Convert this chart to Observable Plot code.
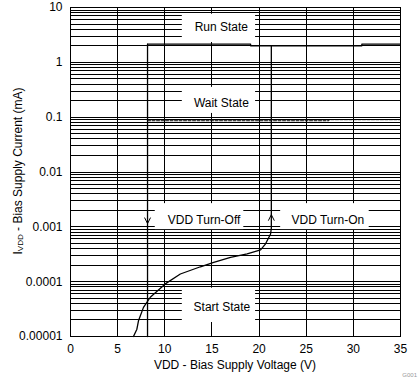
<!DOCTYPE html>
<html><head><meta charset="utf-8">
<script src="https://cdn.jsdelivr.net/npm/d3@7"></script>
<script src="https://cdn.jsdelivr.net/npm/@observablehq/plot@0.6"></script>
<style>body{margin:0;background:#fff} svg{display:block}</style>
</head><body><div id="chart"></div>
<script>
// Axis ticks
const xTicks = [0, 5, 10, 15, 20, 25, 30, 35];
const xGrid = [5, 10, 15, 20, 25, 30];
const yTicks = [1e-5, 1e-4, 1e-3, 1e-2, 1e-1, 1, 10];
const yTickLabels = ["0.00001", "0.0001", "0.001", "0.01", "0.1", "1", "10"];
const decades = [1e-5, 1e-4, 1e-3, 1e-2, 1e-1, 1];
const mults = [1, 2, 3, 4, 5, 6, 7, 8, 9];

// Start state / turn-on curve (V, mA)
const startV = [6.68, 7.04, 7.21, 7.74, 8.46, 10.05, 11.65, 13.78, 15.19, 16.97, 18.74, 20.16, 20.69, 21.22, 21.3, 21.3];
const startI = [1.0e-5, 1.36e-5, 1.93e-5, 3.4e-5, 5.2e-5, 9.1e-5, 1.38e-4, 1.87e-4, 2.25e-4, 2.77e-4, 3.2e-4, 3.8e-4, 4.9e-4, 7.4e-4, 9.5e-4, 2.0];
// Run state
const runV = [8.17, 19.1, 19.1, 30.9, 30.9, 35];
const runI = [2.15, 2.15, 2.0, 2.0, 2.15, 2.15];
// Turn-off drop
const offV = [8.17, 8.17];
const offI = [2.15, 1e-5];
// Wait state (dashed)
const waitV = [8.17, 27.4, 27.4, 35];
const waitI = [0.086, 0.086, 0.09, 0.09];

// Annotations
const labelText = ["Run State", "Wait State", "VDD Turn-Off", "VDD Turn-On", "Start State"];
const labelV = [16.0, 16.0, 14.17, 27.29, 16.06];
const labelI = [4.37, 0.182, 0.0013, 0.0013, 3.39e-5];
const boxV1 = [11.86, 11.86, 8.99, 22.29, 11.86];
const boxV2 = [19.63, 19.63, 18.38, 31.68, 19.63];
const boxI1 = [2.3, 0.117, 0.00089, 0.00089, 1.8e-5];
const boxI2 = [7.54, 0.35, 0.00265, 0.00265, 7.6e-5];
const arrowV = [8.17, 21.3];
const arrowI = [0.0013, 0.00147];
const arrowDir = ["down", "up"];

const minorTicks = decades.flatMap(d => mults.map(m => m * d)).concat([10]);
const toPts = (xs, ys) => xs.map((x, i) => ({x, y: ys[i]}));
const labels = labelText.map((t, i) => ({t, x: labelV[i], y: labelI[i]}));
const boxes = labelText.map((t, i) => ({x1: boxV1[i], x2: boxV2[i], y1: boxI1[i], y2: boxI2[i]}));
const arrows = arrowDir.map((d, i) => ({d, x: arrowV[i], y: arrowI[i]}));

const chevDown = {draw(ctx) { ctx.moveTo(-3, -3); ctx.lineTo(0, 3); ctx.lineTo(3, -3); }};
const chevUp = {draw(ctx) { ctx.moveTo(-3, 3); ctx.lineTo(0, -3); ctx.lineTo(3, 3); }};

const lineStyle = {x: "x", y: "y", stroke: "black", strokeWidth: 1.3, curve: "linear"};

const chart = Plot.plot({
  width: 419, height: 382,
  marginLeft: 70, marginRight: 19, marginTop: 7, marginBottom: 46,
  style: {fontFamily: "'Liberation Sans', Arial, sans-serif", fontSize: "12px", color: "black", background: "white"},
  x: {domain: [0, 35], label: null},
  y: {type: "log", domain: [1e-5, 10], label: null},
  marks: [
    Plot.ruleY(minorTicks, {stroke: "black", strokeWidth: 1, shapeRendering: "crispEdges"}),
    Plot.ruleX(xGrid, {stroke: "black", strokeWidth: 1, shapeRendering: "crispEdges"}),
    Plot.rect(boxes, {x1: "x1", x2: "x2", y1: "y1", y2: "y2", fill: "white"}),
    Plot.text(labels, {x: "x", y: "y", text: "t", fill: "black", fontSize: 12}),
    Plot.line(toPts(startV, startI), lineStyle),
    Plot.line(toPts(runV, runI), lineStyle),
    Plot.line(toPts(offV, offI), lineStyle),
    Plot.line(toPts(waitV, waitI), {...lineStyle, strokeWidth: 1, strokeDasharray: "3,1.5"}),
    Plot.dot(arrows.filter(a => a.d === "down"), {x: "x", y: "y", symbol: chevDown, fill: "none", stroke: "black", strokeWidth: 1}),
    Plot.dot(arrows.filter(a => a.d === "up"), {x: "x", y: "y", symbol: chevUp, fill: "none", stroke: "black", strokeWidth: 1}),
    Plot.frame({stroke: "black", strokeWidth: 1, shapeRendering: "crispEdges"}),
    Plot.axisX(xTicks, {tickSize: 0, tickPadding: 8, fontSize: 12}),
    Plot.axisY(yTicks, {tickSize: 0, tickPadding: 8, fontSize: 12, tickFormat: d => yTickLabels[yTicks.indexOf(d)]})
  ]
});

const svg = d3.select(chart);
svg.append("text")
  .attr("x", 235).attr("y", 369)
  .attr("text-anchor", "middle")
  .attr("font-size", 12).attr("fill", "black")
  .text("VDD - Bias Supply Voltage (V)");
const yl = svg.append("text")
  .attr("transform", "rotate(-90)")
  .attr("x", -171).attr("y", 22)
  .attr("text-anchor", "middle")
  .attr("font-size", 12).attr("fill", "black");
yl.append("tspan").text("I");
yl.append("tspan").attr("font-size", 8).attr("dy", 1).text("VDD");
yl.append("tspan").attr("dy", -1).text(" - Bias Supply Current (mA)");
svg.append("text")
  .attr("x", 417).attr("y", 377)
  .attr("text-anchor", "end")
  .attr("font-size", 6).attr("fill", "#999")
  .text("G001");

document.getElementById("chart").appendChild(chart);
</script>
</body></html>
